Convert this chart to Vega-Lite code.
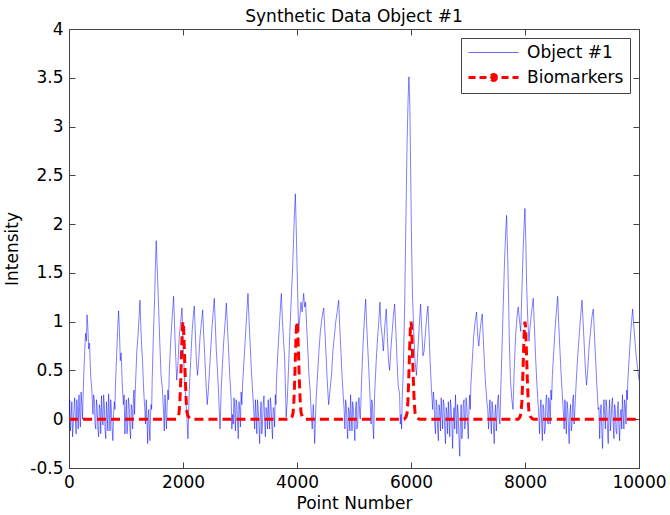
{
"$schema": "https://vega.github.io/schema/vega-lite/v6.json",
"width": 570, "height": 439,
"autosize": {"type": "none"},
"padding": {"left": 69, "top": 29, "right": 31, "bottom": 47},
"background": "white",
"title": {"text": "Synthetic Data Object #1", "font": "DejaVu Sans", "fontSize": 17, "fontWeight": "normal", "color": "#000", "offset": -6},
"config": {
  "view": {"stroke": "#444", "strokeWidth": 1},
  "font": "DejaVu Sans",
  "axis": {"labelFont": "DejaVu Sans", "labelFontSize": 17, "labelColor": "#000", "titleFont": "DejaVu Sans", "titleFontSize": 17, "titleFontWeight": "normal", "titleColor": "#000", "grid": false, "domainColor": "#444", "tickColor": "#444", "tickSize": -6, "labelPadding": 12, "labelFlush": false}
},
"resolve": {"axis": {"x": "independent", "y": "independent"}},
"datasets": {
"obj": [
{"x":0,"y":0.05},{"x":12,"y":0.2},{"x":25,"y":-0.12},{"x":37,"y":0.02},{"x":50,"y":0.18},{"x":62,"y":-0.18},{"x":75,"y":-0.05},{"x":87,"y":0.1},{"x":100,"y":0.22},{"x":112,"y":0.0},{"x":125,"y":-0.15},{"x":137,"y":0.2},{"x":150,"y":0.08},{"x":162,"y":-0.1},{"x":175,"y":0.25},{"x":187,"y":0.05},{"x":200,"y":-0.08},{"x":212,"y":0.28},{"x":225,"y":0.15},{"x":237,"y":0.0},
{"x":250,"y":0.3},{"x":270,"y":0.62},{"x":290,"y":0.88},{"x":305,"y":0.8},{"x":316,"y":1.07},{"x":330,"y":0.95},{"x":345,"y":0.72},{"x":360,"y":0.78},{"x":380,"y":0.45},{"x":400,"y":0.3},{"x":420,"y":0.05},
{"x":432,"y":0.25},{"x":445,"y":0.2},{"x":457,"y":-0.05},{"x":470,"y":-0.1},{"x":482,"y":0.2},{"x":495,"y":0.12},{"x":507,"y":-0.1},{"x":520,"y":-0.18},{"x":532,"y":0.15},{"x":545,"y":0.1},{"x":557,"y":-0.15},{"x":570,"y":0.24},{"x":582,"y":0.05},{"x":595,"y":-0.06},{"x":607,"y":0.25},{"x":620,"y":0.15},{"x":632,"y":-0.1},{"x":645,"y":-0.2},{"x":657,"y":0.18},{"x":670,"y":0.05},{"x":682,"y":-0.12},{"x":695,"y":0.26},{"x":707,"y":0.08},{"x":720,"y":-0.12},{"x":732,"y":0.2},{"x":745,"y":0.08},{"x":757,"y":-0.1},{"x":770,"y":-0.22},{"x":782,"y":0.05},{"x":795,"y":0.18},{"x":805,"y":0.1},
{"x":815,"y":0.35},{"x":835,"y":0.65},{"x":855,"y":0.95},{"x":870,"y":1.11},{"x":885,"y":0.9},{"x":900,"y":0.6},{"x":915,"y":0.68},{"x":935,"y":0.35},{"x":955,"y":0.15},
{"x":967,"y":0.25},{"x":980,"y":-0.15},{"x":992,"y":0.05},{"x":1005,"y":0.2},{"x":1017,"y":-0.15},{"x":1030,"y":-0.05},{"x":1042,"y":0.22},{"x":1055,"y":0.14},{"x":1067,"y":-0.08},{"x":1080,"y":-0.2},{"x":1092,"y":0.15},{"x":1105,"y":0.1},{"x":1117,"y":-0.1},{"x":1130,"y":0.22},{"x":1140,"y":0.3},{"x":1150,"y":0.05},{"x":1160,"y":0.25},
{"x":1170,"y":0.4},{"x":1190,"y":0.7},{"x":1210,"y":0.85},{"x":1230,"y":1.05},{"x":1245,"y":1.22},{"x":1260,"y":0.95},{"x":1275,"y":0.75},{"x":1290,"y":0.6},{"x":1310,"y":0.3},{"x":1330,"y":0.1},
{"x":1342,"y":-0.05},{"x":1355,"y":0.2},{"x":1367,"y":0.0},{"x":1380,"y":-0.25},{"x":1390,"y":0.05},{"x":1400,"y":0.1},{"x":1410,"y":-0.1},{"x":1420,"y":-0.22},{"x":1430,"y":0.05},{"x":1440,"y":0.15},{"x":1450,"y":0.1},
{"x":1460,"y":0.42},{"x":1480,"y":0.85},{"x":1500,"y":1.2},{"x":1515,"y":1.55},{"x":1530,"y":1.83},{"x":1545,"y":1.6},{"x":1560,"y":1.35},{"x":1575,"y":1.1},{"x":1595,"y":0.75},{"x":1615,"y":0.45},{"x":1640,"y":0.3},{"x":1660,"y":0.05},
{"x":1672,"y":-0.12},{"x":1685,"y":0.25},{"x":1697,"y":0.05},{"x":1710,"y":-0.1},{"x":1722,"y":0.15},{"x":1735,"y":0.3},{"x":1747,"y":0.2},
{"x":1760,"y":0.5},{"x":1785,"y":0.8},{"x":1810,"y":1.05},{"x":1836,"y":1.26},{"x":1855,"y":0.9},{"x":1875,"y":0.6},{"x":1890,"y":0.4},
{"x":1910,"y":0.55},{"x":1935,"y":0.85},{"x":1960,"y":1.0},{"x":1982,"y":1.14},{"x":2000,"y":0.8},{"x":2020,"y":0.5},{"x":2040,"y":0.3},{"x":2065,"y":0.05},{"x":2087,"y":-0.2},
{"x":2110,"y":0.3},{"x":2135,"y":0.6},{"x":2160,"y":0.9},{"x":2180,"y":1.05},{"x":2198,"y":1.16},{"x":2215,"y":0.9},{"x":2235,"y":0.6},{"x":2255,"y":0.45},
{"x":2275,"y":0.6},{"x":2300,"y":0.85},{"x":2325,"y":1.0},{"x":2345,"y":1.12},{"x":2365,"y":0.85},{"x":2385,"y":0.6},{"x":2405,"y":0.35},{"x":2425,"y":0.15},{"x":2445,"y":0.3},
{"x":2465,"y":0.5},{"x":2490,"y":0.75},{"x":2510,"y":0.95},{"x":2530,"y":1.1},{"x":2549,"y":1.24},{"x":2565,"y":1.0},{"x":2585,"y":0.7},{"x":2605,"y":0.5},{"x":2625,"y":0.25},{"x":2650,"y":-0.1},
{"x":2670,"y":0.3},{"x":2690,"y":0.55},{"x":2715,"y":0.8},{"x":2740,"y":1.0},{"x":2760,"y":1.19},{"x":2780,"y":0.95},{"x":2800,"y":0.7},{"x":2820,"y":0.45},{"x":2845,"y":0.2},
{"x":2857,"y":-0.1},{"x":2870,"y":0.05},{"x":2882,"y":-0.05},{"x":2895,"y":0.22},{"x":2907,"y":0.1},{"x":2920,"y":-0.12},{"x":2932,"y":0.2},{"x":2945,"y":0.15},{"x":2957,"y":-0.05},{"x":2970,"y":-0.2},{"x":2982,"y":0.18},{"x":2995,"y":0.1},{"x":3007,"y":-0.08},{"x":3020,"y":0.28},{"x":3032,"y":0.15},
{"x":3045,"y":0.35},{"x":3070,"y":0.6},{"x":3095,"y":0.85},{"x":3120,"y":1.1},{"x":3140,"y":1.29},{"x":3160,"y":1.0},{"x":3180,"y":0.75},{"x":3200,"y":0.5},{"x":3220,"y":0.3},{"x":3245,"y":0.05},
{"x":3257,"y":-0.1},{"x":3270,"y":0.2},{"x":3282,"y":0.05},{"x":3295,"y":-0.15},{"x":3307,"y":0.2},{"x":3320,"y":0.1},{"x":3332,"y":-0.05},{"x":3345,"y":-0.25},{"x":3357,"y":0.05},{"x":3370,"y":0.18},{"x":3382,"y":-0.15},{"x":3395,"y":-0.05},{"x":3407,"y":0.15},{"x":3420,"y":0.24},{"x":3432,"y":0.0},{"x":3445,"y":-0.18},{"x":3457,"y":0.12},{"x":3470,"y":0.08},{"x":3482,"y":-0.1},{"x":3495,"y":0.2},{"x":3507,"y":0.05},{"x":3520,"y":-0.1},{"x":3532,"y":0.22},{"x":3545,"y":0.15},{"x":3557,"y":-0.05},{"x":3570,"y":-0.2},{"x":3582,"y":0.12},{"x":3595,"y":0.1},{"x":3607,"y":-0.08},{"x":3620,"y":0.25},{"x":3630,"y":0.15},
{"x":3640,"y":0.4},{"x":3665,"y":0.7},{"x":3690,"y":0.95},{"x":3710,"y":1.15},{"x":3725,"y":1.29},{"x":3745,"y":1.0},{"x":3765,"y":0.8},{"x":3785,"y":0.6},{"x":3798,"y":0.3},{"x":3810,"y":0.02},
{"x":3830,"y":0.2},{"x":3850,"y":0.5},{"x":3875,"y":0.9},{"x":3900,"y":1.25},{"x":3920,"y":1.5},{"x":3940,"y":1.85},{"x":3955,"y":2.1},{"x":3971,"y":2.31},{"x":3985,"y":2.0},{"x":4000,"y":1.6},{"x":4015,"y":1.2},{"x":4030,"y":0.9},
{"x":4050,"y":1.05},{"x":4070,"y":1.2},{"x":4090,"y":1.1},{"x":4117,"y":1.29},{"x":4135,"y":1.15},{"x":4150,"y":1.2},{"x":4170,"y":0.95},{"x":4190,"y":0.7},{"x":4210,"y":0.45},{"x":4230,"y":0.3},{"x":4250,"y":0.05},{"x":4267,"y":-0.1},{"x":4285,"y":0.15},{"x":4297,"y":0.0},{"x":4310,"y":-0.25},
{"x":4335,"y":0.2},{"x":4360,"y":0.45},{"x":4385,"y":0.7},{"x":4410,"y":0.9},{"x":4440,"y":1.05},{"x":4468,"y":1.14},{"x":4490,"y":0.9},{"x":4510,"y":0.65},{"x":4530,"y":0.4},{"x":4555,"y":0.15},
{"x":4580,"y":0.3},{"x":4605,"y":0.45},{"x":4630,"y":0.7},{"x":4655,"y":0.85},{"x":4680,"y":1.0},{"x":4705,"y":1.1},{"x":4731,"y":1.22},{"x":4750,"y":0.95},{"x":4770,"y":0.7},{"x":4790,"y":0.45},{"x":4815,"y":0.2},
{"x":4827,"y":0.1},{"x":4840,"y":-0.1},{"x":4852,"y":0.2},{"x":4865,"y":0.15},{"x":4877,"y":-0.08},{"x":4890,"y":-0.2},{"x":4902,"y":0.12},{"x":4915,"y":0.08},{"x":4927,"y":-0.12},{"x":4940,"y":0.25},{"x":4952,"y":0.05},{"x":4965,"y":-0.12},{"x":4977,"y":0.18},{"x":4990,"y":0.1},{"x":5002,"y":-0.05},{"x":5015,"y":-0.22},{"x":5027,"y":0.1},{"x":5040,"y":0.18},{"x":5052,"y":-0.1},{"x":5065,"y":-0.05},{"x":5077,"y":0.2},{"x":5090,"y":0.22},{"x":5100,"y":0.05},{"x":5110,"y":0.0},{"x":5120,"y":0.15},
{"x":5130,"y":0.35},{"x":5150,"y":0.65},{"x":5170,"y":0.9},{"x":5190,"y":1.1},{"x":5204,"y":1.23},{"x":5220,"y":1.0},{"x":5240,"y":0.75},{"x":5260,"y":0.5},{"x":5280,"y":0.25},
{"x":5290,"y":0.1},{"x":5300,"y":-0.05},{"x":5312,"y":0.2},{"x":5325,"y":0.15},{"x":5335,"y":-0.1},{"x":5345,"y":-0.2},{"x":5355,"y":0.1},
{"x":5365,"y":0.3},{"x":5390,"y":0.6},{"x":5415,"y":0.85},{"x":5435,"y":1.0},{"x":5455,"y":1.2},{"x":5475,"y":0.95},{"x":5495,"y":0.85},{"x":5515,"y":0.7},{"x":5540,"y":0.95},{"x":5566,"y":1.13},{"x":5585,"y":0.85},{"x":5605,"y":0.6},{"x":5625,"y":0.5},
{"x":5645,"y":0.7},{"x":5670,"y":0.9},{"x":5690,"y":1.05},{"x":5713,"y":1.18},{"x":5735,"y":0.9},{"x":5755,"y":0.6},{"x":5775,"y":0.35},{"x":5800,"y":0.26},{"x":5812,"y":-0.05},{"x":5825,"y":0.05},{"x":5835,"y":-0.1},{"x":5845,"y":0.2},
{"x":5865,"y":0.5},{"x":5890,"y":1.2},{"x":5910,"y":2.0},{"x":5930,"y":2.8},{"x":5950,"y":3.3},{"x":5964,"y":3.51},{"x":5980,"y":3.2},{"x":5995,"y":2.5},{"x":6010,"y":1.8},{"x":6025,"y":1.3},{"x":6045,"y":0.95},
{"x":6070,"y":0.6},{"x":6095,"y":0.45},{"x":6120,"y":0.7},{"x":6145,"y":0.95},{"x":6168,"y":1.18},{"x":6190,"y":0.9},{"x":6210,"y":0.65},{"x":6230,"y":0.7},{"x":6255,"y":0.9},{"x":6275,"y":1.05},{"x":6297,"y":1.16},{"x":6315,"y":0.9},{"x":6335,"y":0.6},{"x":6355,"y":0.35},{"x":6380,"y":0.1},
{"x":6392,"y":0.28},{"x":6405,"y":0.2},{"x":6417,"y":-0.05},{"x":6430,"y":-0.15},{"x":6442,"y":0.2},{"x":6455,"y":0.12},{"x":6467,"y":-0.1},{"x":6480,"y":-0.22},{"x":6492,"y":0.15},{"x":6505,"y":0.08},{"x":6517,"y":-0.12},{"x":6530,"y":0.22},{"x":6542,"y":0.05},{"x":6555,"y":-0.1},{"x":6567,"y":0.2},{"x":6580,"y":0.15},{"x":6592,"y":-0.1},{"x":6605,"y":-0.25},{"x":6617,"y":0.12},{"x":6630,"y":0.05},{"x":6642,"y":-0.15},{"x":6655,"y":0.18},{"x":6667,"y":0.02},{"x":6680,"y":-0.18},{"x":6692,"y":0.2},{"x":6705,"y":0.1},{"x":6717,"y":-0.05},{"x":6730,"y":-0.3},{"x":6742,"y":0.0},{"x":6755,"y":0.12},{"x":6767,"y":-0.1},{"x":6780,"y":0.25},{"x":6792,"y":0.05},{"x":6805,"y":-0.15},{"x":6817,"y":0.15},{"x":6830,"y":0.05},{"x":6842,"y":-0.2},{"x":6855,"y":-0.38},{"x":6867,"y":-0.05},{"x":6880,"y":0.15},{"x":6892,"y":-0.2},{"x":6905,"y":-0.1},{"x":6917,"y":0.15},{"x":6930,"y":0.2},{"x":6942,"y":-0.1},{"x":6955,"y":-0.05},{"x":6967,"y":0.22},{"x":6980,"y":0.12},{"x":6992,"y":-0.05},{"x":7005,"y":-0.2},{"x":7017,"y":0.1},{"x":7030,"y":0.25},{"x":7040,"y":0.1},
{"x":7050,"y":0.35},{"x":7075,"y":0.6},{"x":7100,"y":0.85},{"x":7125,"y":1.0},{"x":7150,"y":1.1},{"x":7170,"y":0.85},{"x":7190,"y":0.75},{"x":7210,"y":0.9},{"x":7230,"y":1.0},{"x":7250,"y":1.08},{"x":7270,"y":0.8},{"x":7290,"y":0.55},{"x":7310,"y":0.35},{"x":7335,"y":0.15},
{"x":7347,"y":0.1},{"x":7360,"y":-0.1},{"x":7372,"y":0.05},{"x":7385,"y":0.2},{"x":7397,"y":0.0},{"x":7410,"y":-0.15},{"x":7422,"y":0.18},{"x":7435,"y":0.1},{"x":7447,"y":-0.1},{"x":7460,"y":-0.25},{"x":7472,"y":0.05},{"x":7485,"y":0.15},{"x":7497,"y":-0.12},{"x":7510,"y":0.05},{"x":7522,"y":0.2},{"x":7535,"y":0.25},{"x":7547,"y":0.0},{"x":7560,"y":-0.05},{"x":7570,"y":0.2},
{"x":7580,"y":0.4},{"x":7600,"y":0.8},{"x":7620,"y":1.2},{"x":7640,"y":1.6},{"x":7660,"y":1.9},{"x":7677,"y":2.09},{"x":7695,"y":1.7},{"x":7710,"y":1.3},{"x":7725,"y":0.8},{"x":7745,"y":0.4},{"x":7770,"y":0.2},{"x":7790,"y":0.1},
{"x":7810,"y":0.5},{"x":7835,"y":0.85},{"x":7860,"y":1.05},{"x":7881,"y":1.15},{"x":7905,"y":1.0},{"x":7925,"y":0.9},{"x":7945,"y":1.3},{"x":7965,"y":1.7},{"x":7985,"y":2.0},{"x":7999,"y":2.16},{"x":8015,"y":1.8},{"x":8030,"y":1.35},{"x":8050,"y":1.0},{"x":8070,"y":0.8},{"x":8090,"y":0.95},{"x":8115,"y":1.1},{"x":8145,"y":1.24},{"x":8165,"y":0.95},{"x":8185,"y":0.65},{"x":8205,"y":0.4},{"x":8230,"y":0.15},
{"x":8242,"y":0.05},{"x":8255,"y":-0.15},{"x":8267,"y":0.1},{"x":8280,"y":0.2},{"x":8292,"y":-0.05},{"x":8305,"y":-0.22},{"x":8317,"y":0.15},{"x":8330,"y":0.1},{"x":8342,"y":-0.15},{"x":8355,"y":-0.1},{"x":8367,"y":0.2},{"x":8380,"y":0.25},{"x":8392,"y":0.0},{"x":8405,"y":-0.05},{"x":8417,"y":0.22},{"x":8430,"y":0.15},{"x":8442,"y":-0.05},{"x":8455,"y":0.3},{"x":8467,"y":0.2},
{"x":8480,"y":0.45},{"x":8505,"y":0.7},{"x":8530,"y":0.95},{"x":8550,"y":1.1},{"x":8573,"y":1.26},{"x":8590,"y":1.0},{"x":8610,"y":0.75},{"x":8630,"y":0.5},{"x":8650,"y":0.3},{"x":8675,"y":0.05},
{"x":8687,"y":-0.1},{"x":8700,"y":0.2},{"x":8712,"y":0.05},{"x":8725,"y":-0.15},{"x":8737,"y":0.18},{"x":8750,"y":0.1},{"x":8762,"y":-0.08},{"x":8775,"y":-0.25},{"x":8787,"y":0.05},{"x":8800,"y":0.15},{"x":8812,"y":-0.12},{"x":8825,"y":-0.05},{"x":8837,"y":0.2},{"x":8850,"y":0.25},{"x":8862,"y":-0.05},{"x":8875,"y":0.1},{"x":8887,"y":0.25},
{"x":8900,"y":0.4},{"x":8925,"y":0.65},{"x":8950,"y":0.85},{"x":8975,"y":1.05},{"x":9000,"y":1.22},{"x":9020,"y":1.0},{"x":9040,"y":0.75},{"x":9060,"y":0.5},{"x":9080,"y":0.35},{"x":9100,"y":0.5},{"x":9125,"y":0.75},{"x":9150,"y":0.9},{"x":9175,"y":1.05},{"x":9198,"y":1.13},{"x":9220,"y":0.85},{"x":9240,"y":0.6},{"x":9260,"y":0.35},{"x":9285,"y":0.1},
{"x":9297,"y":0.12},{"x":9310,"y":-0.2},{"x":9322,"y":0.05},{"x":9335,"y":0.15},{"x":9347,"y":-0.1},{"x":9360,"y":-0.3},{"x":9372,"y":0.0},{"x":9385,"y":0.2},{"x":9397,"y":0.05},{"x":9410,"y":-0.1},{"x":9422,"y":0.2},{"x":9435,"y":0.12},{"x":9447,"y":-0.1},{"x":9460,"y":-0.25},{"x":9472,"y":0.05},{"x":9485,"y":0.2},{"x":9497,"y":-0.12},{"x":9510,"y":0.0},{"x":9522,"y":0.15},{"x":9535,"y":0.22},{"x":9547,"y":-0.05},{"x":9560,"y":-0.2},{"x":9572,"y":0.15},{"x":9585,"y":0.1},{"x":9597,"y":-0.12},{"x":9610,"y":-0.15},{"x":9622,"y":0.1},{"x":9635,"y":0.18},{"x":9647,"y":-0.05},{"x":9660,"y":-0.22},{"x":9672,"y":0.05},{"x":9685,"y":0.1},{"x":9697,"y":-0.1},{"x":9710,"y":0.25},{"x":9722,"y":0.05},{"x":9735,"y":-0.1},{"x":9747,"y":0.2},{"x":9760,"y":0.15},{"x":9772,"y":-0.05},{"x":9785,"y":0.3},{"x":9795,"y":0.2},
{"x":9805,"y":0.4},{"x":9830,"y":0.65},{"x":9850,"y":0.85},{"x":9870,"y":1.0},{"x":9888,"y":1.13},{"x":9910,"y":0.95},{"x":9930,"y":0.8},{"x":9950,"y":0.65},{"x":9970,"y":0.55},{"x":10000,"y":0.4}
],
"bio": [
{"x":0,"y":0},{"x":1880,"y":0},{"x":1910,"y":0.02},{"x":1930,"y":0.06},{"x":1945,"y":0.18},{"x":1960,"y":0.4},{"x":1975,"y":0.7},{"x":1990,"y":0.95},{"x":2000,"y":1.0},{"x":2010,"y":0.95},{"x":2025,"y":0.7},{"x":2040,"y":0.42},{"x":2055,"y":0.2},{"x":2070,"y":0.07},{"x":2090,"y":0.03},{"x":2120,"y":0.01},{"x":2150,"y":0},
{"x":3880,"y":0},{"x":3910,"y":0.02},{"x":3930,"y":0.06},{"x":3945,"y":0.18},{"x":3960,"y":0.4},{"x":3975,"y":0.7},{"x":3990,"y":0.95},{"x":4000,"y":1.0},{"x":4010,"y":0.95},{"x":4025,"y":0.7},{"x":4040,"y":0.42},{"x":4055,"y":0.2},{"x":4070,"y":0.07},{"x":4090,"y":0.03},{"x":4120,"y":0.01},{"x":4150,"y":0},
{"x":5880,"y":0},{"x":5910,"y":0.02},{"x":5930,"y":0.06},{"x":5945,"y":0.18},{"x":5960,"y":0.4},{"x":5975,"y":0.7},{"x":5990,"y":0.95},{"x":6000,"y":1.0},{"x":6010,"y":0.95},{"x":6025,"y":0.7},{"x":6040,"y":0.42},{"x":6055,"y":0.2},{"x":6070,"y":0.07},{"x":6090,"y":0.03},{"x":6120,"y":0.01},{"x":6150,"y":0},
{"x":7880,"y":0},{"x":7910,"y":0.02},{"x":7930,"y":0.06},{"x":7945,"y":0.18},{"x":7960,"y":0.4},{"x":7975,"y":0.7},{"x":7990,"y":0.95},{"x":8000,"y":1.0},{"x":8010,"y":0.95},{"x":8025,"y":0.7},{"x":8040,"y":0.42},{"x":8055,"y":0.2},{"x":8070,"y":0.07},{"x":8090,"y":0.03},{"x":8120,"y":0.01},{"x":8150,"y":0},
{"x":10000,"y":0}
]
},
"layer": [
{
  "data": {"name": "obj"},
  "mark": {"type": "line", "strokeWidth": 0.5, "clip": true},
  "encoding": {
    "x": {"field": "x", "type": "quantitative", "scale": {"domain": [0, 10000], "nice": false},
          "axis": {"orient": "bottom", "values": [0, 2000, 4000, 6000, 8000, 10000], "format": "d", "title": "Point Number", "titlePadding": 5}},
    "y": {"field": "y", "type": "quantitative", "scale": {"domain": [-0.5, 4], "nice": false},
          "axis": {"orient": "left", "values": [-0.5, 0, 0.5, 1, 1.5, 2, 2.5, 3, 3.5, 4], "format": "~g", "labelExpr": "replace(datum.label, '\u2212', '-')", "title": "Intensity", "titlePadding": 8}},
    "color": {"datum": "Object #1", "type": "nominal",
      "scale": {"domain": ["Object #1", "Biomarkers"], "range": ["#0000ff", "#ff0000"]},
      "legend": {"title": null, "orient": "top-right", "offset": 9, "strokeColor": "#444", "fillColor": "#ffffff", "padding": 6,
        "labelFont": "DejaVu Sans", "labelFontSize": 17, "labelColor": "#000", "symbolSize": 400, "symbolOffset": 20, "labelOffset": 23, "rowPadding": 7,
        "encode": {"symbols": {"update": {
          "shape": {"signal": "datum.value === 'Biomarkers' ? 'M-2.7,0H2.3M0.1,0A0.3,0.3 0 1,1 -0.5,0A0.3,0.3 0 1,1 0.1,0Z' : 'M-2.7,0H2.3'"},
          "strokeWidth": {"signal": "datum.value === 'Biomarkers' ? 3 : 0.7"},
          "strokeDash": {"signal": "datum.value === 'Biomarkers' ? [7,4] : [1,0]"},
          "fill": {"signal": "datum.value === 'Biomarkers' ? '#ff0000' : 'transparent'"},
          "opacity": {"value": 1}
        }}}
      }}
  }
},
{
  "data": {"name": "bio"},
  "mark": {"type": "line", "strokeWidth": 3, "strokeDash": [9, 5], "clip": true},
  "encoding": {
    "x": {"field": "x", "type": "quantitative", "axis": {"orient": "top", "values": [0, 2000, 4000, 6000, 8000, 10000], "labels": false, "title": null, "domain": false}},
    "y": {"field": "y", "type": "quantitative", "axis": {"orient": "right", "values": [-0.5, 0, 0.5, 1, 1.5, 2, 2.5, 3, 3.5, 4], "labels": false, "title": null, "domain": false}},
    "color": {"datum": "Biomarkers", "type": "nominal"}
  }
}
]
}
